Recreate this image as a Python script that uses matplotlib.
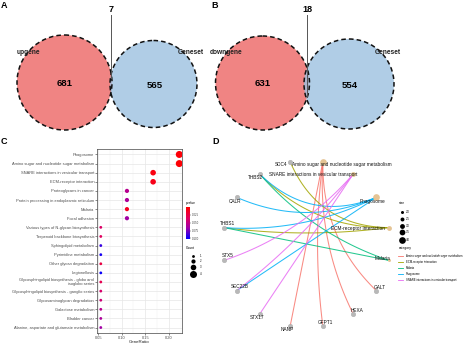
import numpy as np
import matplotlib.pyplot as plt
from matplotlib.patches import Circle
from matplotlib.colors import LinearSegmentedColormap, Normalize

plt.rcParams['font.family'] = ['Liberation Sans', 'DejaVu Sans']

# ---- data ----
# Venn diagrams (only left, common, only right)
venn_a = [681, 7, 565]
venn_b = [631, 18, 554]
venn_names_a = ['upgene', 'Geneset']
venn_names_b = ['downgene', 'Geneset']

# KEGG dot plot (top to bottom)
terms = ['Phagosome',
         'Amino sugar and nucleotide sugar metabolism',
         'SNARE interactions in vesicular transport',
         'ECM-receptor interaction',
         'Proteoglycans in cancer',
         'Protein processing in endoplasmic reticulum',
         'Malaria',
         'Focal adhesion',
         'Various types of N-glycan biosynthesis',
         'Terpenoid backbone biosynthesis',
         'Sphingolipid metabolism',
         'Pyrimidine metabolism',
         'Other glycan degradation',
         'Legionellosis',
         'Glycosphingolipid biosynthesis - globo and\nisoglobo series',
         'Glycosphingolipid biosynthesis - ganglio series',
         'Glycosaminoglycan degradation',
         'Galactose metabolism',
         'Bladder cancer',
         'Alanine, aspartate and glutamate metabolism']
counts = [4, 4, 3, 3, 2, 2, 2, 2, 1, 1, 1, 1, 1, 1, 1, 1, 1, 1, 1, 1]
n_genes = 18
pvals = [0.003, 0.002, 0.006, 0.009, 0.055, 0.06, 0.012, 0.065, 0.038, 0.035,
         0.09, 0.097, 0.025, 0.1, 0.03, 0.04, 0.045, 0.055, 0.06, 0.065]

# gene-concept network
categories = ['Amino sugar and nucleotide sugar metabolism',
              'SNARE interactions in vesicular transport',
              'Phagosome', 'ECM-receptor interaction', 'Malaria']
cat_size = [4, 3, 4, 3, 2]
genes = ['GALT', 'HEXA', 'GFPT1', 'NANP', 'STX17', 'SEC22B', 'STX5',
         'THBS1', 'CALR', 'THBS2', 'SDC4']
edges = [('Amino sugar and nucleotide sugar metabolism', 'GALT'),
         ('Amino sugar and nucleotide sugar metabolism', 'HEXA'),
         ('Amino sugar and nucleotide sugar metabolism', 'GFPT1'),
         ('Amino sugar and nucleotide sugar metabolism', 'NANP'),
         ('ECM-receptor interaction', 'SDC4'),
         ('ECM-receptor interaction', 'THBS2'),
         ('ECM-receptor interaction', 'THBS1'),
         ('Malaria', 'THBS2'),
         ('Malaria', 'THBS1'),
         ('Phagosome', 'CALR'),
         ('Phagosome', 'THBS2'),
         ('Phagosome', 'THBS1'),
         ('Phagosome', 'SEC22B'),
         ('SNARE interactions in vesicular transport', 'STX5'),
         ('SNARE interactions in vesicular transport', 'STX17'),
         ('SNARE interactions in vesicular transport', 'SEC22B')]
legend_cats = sorted(categories)
hue = ['#F8766D', '#A3A500', '#00BF7D', '#00B0F6', '#E76BF3']
cat_color = dict(zip(legend_cats, hue))

fig = plt.figure(figsize=(4.74, 3.45), dpi=100)

# overlay axes in pixel coordinates
ov = fig.add_axes([0, 0, 1, 1])
ov.set_xlim(0, 474)
ov.set_ylim(345, 0)
ov.axis('off')

# panel letters
for lab, x, y in [('A', 1, 6), ('B', 211, 6), ('C', 1, 141), ('D', 212, 141)]:
    ov.text(x, y, lab, fontsize=6.5, fontweight='bold', ha='left', va='center')

# ---- Venn panels ----
def venn(vals, names, c1, r1, c2, r2, line_x, line_bot, lbl1, lbl2):
    ov.add_patch(Circle(c1, r1, facecolor='#F08483', edgecolor='none', zorder=1))
    ov.add_patch(Circle(c2, r2, facecolor='#9CC1E0', edgecolor='none', alpha=0.8, zorder=2))
    for c, r in [(c1, r1), (c2, r2)]:
        ov.add_patch(Circle(c, r, facecolor='none', edgecolor='#111111', lw=1.1,
                            ls=(0, (3, 2)), zorder=3))
    ov.text(c1[0], c1[1] + 1, str(vals[0]), fontsize=6.8, fontweight='bold', ha='center', va='center', zorder=4)
    ov.text(c2[0] + 1, c2[1] + 1, str(vals[2]), fontsize=6.8, fontweight='bold', ha='center', va='center', zorder=4)
    ov.plot([line_x, line_x], [15, line_bot], color='#555555', lw=0.7, zorder=4)
    ov.text(line_x, 10, str(vals[1]), fontsize=6.5, fontweight='bold', ha='center', va='center')
    ov.text(lbl1[0], lbl1[1], names[0], fontsize=4.8, fontweight='bold', ha='center', va='center', zorder=4, color='#222222')
    ov.text(lbl2[0], lbl2[1], names[1], fontsize=4.8, fontweight='bold', ha='center', va='center', zorder=4, color='#222222')

venn(venn_a, venn_names_a, (64.5, 82.5), 47.5, (153.5, 84), 43.5, 111, 78, (28.5, 53), (191, 52))
venn(venn_b, venn_names_b, (262.5, 83), 47, (349, 84), 45, 307, 97, (226, 53), (388, 52))

# ---- panel C: dot plot ----
axc = fig.add_axes([97 / 474, 1 - 333 / 345, 85 / 474, 184 / 345])
cmap = LinearSegmentedColormap.from_list('pv', [(0, '#FF0000'), (0.35, '#E00060'),
                                                (0.65, '#A000A8'), (1, '#0000FF')])
norm = Normalize(vmin=0.0, vmax=0.102)
ypos = np.arange(len(terms))[::-1] + 1
ratio = np.array(counts) / n_genes

def dot_size(c):
    d = 2.8 + (np.asarray(c) - 1) * 1.4
    return (d * 0.72) ** 2

axc.scatter(ratio, ypos, s=dot_size(counts), c=pvals, cmap=cmap, norm=norm,
            zorder=3, linewidths=0)
axc.set_xlim(0.0475, 0.228)
axc.set_ylim(0.4, len(terms) + 0.6)
axc.set_yticks(ypos)
axc.set_yticklabels(terms, fontsize=2.9, color='#4D4D4D', linespacing=0.9)
axc.set_xticks([0.05, 0.10, 0.15, 0.20])
axc.set_xticklabels(['0.05', '0.10', '0.15', '0.20'], fontsize=2.9, color='#4D4D4D')
axc.set_xticks([0.075, 0.125, 0.175, 0.225], minor=True)
axc.tick_params(length=1.2, width=0.4, pad=0.8, color='#333333')
axc.tick_params(which='minor', length=0)
axc.grid(True, which='major', color='#E6E6E6', lw=0.5)
axc.grid(True, which='minor', axis='x', color='#F0F0F0', lw=0.3)
axc.set_axisbelow(True)
for sp in axc.spines.values():
    sp.set_color('#444444')
    sp.set_linewidth(0.5)
axc.set_xlabel('GeneRatio', fontsize=3.2, labelpad=0.5, color='#222222')

# colorbar (low p-values on top)
cax = fig.add_axes([186 / 474, 1 - 239 / 345, 4 / 474, 32 / 345])
sm = plt.cm.ScalarMappable(norm=norm, cmap=cmap)
cb = fig.colorbar(sm, cax=cax)
cb.outline.set_visible(False)
cax.invert_yaxis()
cb.set_ticks([0.025, 0.050, 0.075, 0.100])
cb.set_ticklabels(['0.025', '0.050', '0.075', '0.100'])
cax.tick_params(labelsize=2.0, length=0.8, width=0.3, pad=0.8, colors='#333333')
ov.text(186, 203, 'pvalue', fontsize=2.4, ha='left', va='center')

ov.text(186, 248, 'Count', fontsize=2.4, ha='left', va='center')
leg_counts = [1, 2, 3, 4]
for i, c in enumerate(leg_counts):
    yy = [256, 261, 267, 274][i]
    ov.scatter([193], [yy], s=dot_size(c), color='black', linewidths=0)
    ov.text(200, yy, str(c), fontsize=2.0, ha='left', va='center')

# ---- panel D: circular gene-concept network ----
nodes = categories + genes
cx, cy, R = 306.5, 244, 84
ang = np.deg2rad(78.75 - 22.5 * np.arange(len(nodes)))
pos = {n: np.array([cx + R * np.cos(a), cy - R * np.sin(a)]) for n, a in zip(nodes, ang)}

t = np.linspace(0, 1, 60)[:, None]
centre = np.array([cx, cy])
for cat, g in edges:
    p0, p2 = pos[g], pos[cat]
    ctrl = centre + 0.35 * ((p0 + p2) / 2 - centre)
    pts = (1 - t) ** 2 * p0 + 2 * (1 - t) * t * ctrl + t ** 2 * p2
    ov.plot(pts[:, 0], pts[:, 1], color=cat_color[cat], lw=0.75, alpha=0.85, zorder=5)

def node_d(size):
    return 3 + (np.asarray(size) - 2) * 1.85

for cat, sz in zip(categories, cat_size):
    ov.scatter(*pos[cat], s=(node_d(sz) * 0.72) ** 2, color='#E5C494', linewidths=0, zorder=6)
for g in genes:
    ov.scatter(*pos[g], s=(4.6 * 0.72) ** 2, color='#B8B8B8', edgecolors='#9A9A9A',
               linewidths=0.2, zorder=6)

label_off = {'Amino sugar and nucleotide sugar metabolism': (19, 3),
             'SNARE interactions in vesicular transport': (-40, 0),
             'Phagosome': (-4, 4), 'ECM-receptor interaction': (-31, 1),
             'Malaria': (-6, -2), 'GALT': (3, -3), 'HEXA': (4, -3),
             'GFPT1': (3, -4), 'NANP': (-3, 3), 'STX17': (-3, 4),
             'SEC22B': (3, -4), 'STX5': (4, -5), 'THBS1': (3, -4),
             'CALR': (-2, 4), 'THBS2': (-4, 3), 'SDC4': (-9, 3)}
for n in nodes:
    dx, dy = label_off[n]
    ov.text(pos[n][0] + dx, pos[n][1] + dy, n, fontsize=3.4, ha='center', va='center',
            color='#111111', zorder=7)

# network legend
ov.text(399, 203, 'size', fontsize=2.4, ha='left', va='center')
leg_sizes = [2.0, 2.5, 3.0, 3.5, 4.0]
for i, sz in enumerate(leg_sizes):
    yy = [212, 219, 226, 232, 240][i]
    ov.scatter([402], [yy], s=(node_d(sz) * 0.72) ** 2, color='black', linewidths=0)
    ov.text(406, yy, f'{sz:.1f}', fontsize=2.0, ha='left', va='center')
ov.text(399, 248, 'category', fontsize=2.4, ha='left', va='center')
for i, cat in enumerate(legend_cats):
    yy = 256 + 6 * i
    ov.plot([398, 403], [yy, yy], color=cat_color[cat], lw=0.6)
    ov.text(406, yy, cat, fontsize=2.0, ha='left', va='center')

fig.savefig('out.png', dpi=100)
